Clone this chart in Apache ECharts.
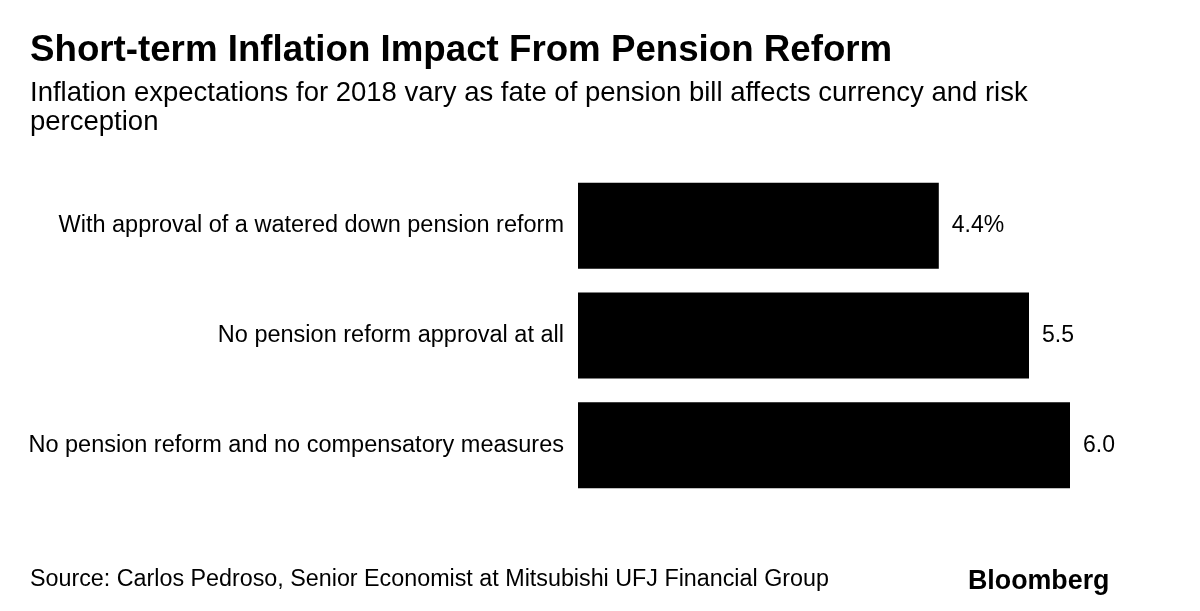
<!DOCTYPE html>
<html>
<head>
<meta charset="utf-8">
<script src="https://cdn.jsdelivr.net/npm/echarts@6/dist/echarts.min.js"></script>
<style>
html,body{margin:0;padding:0;background:#fff;}
#chart{width:1200px;height:611px;}
</style>
</head>
<body>
<div id="chart"></div>
<script>
const categories = [
  'With approval of a watered down pension reform',
  'No pension reform approval at all',
  'No pension reform and no compensatory measures'
];
const values = [4.4, 5.5, 6.0];
const valueLabels = ['4.4%', '5.5', '6.0'];

const FONT = '"Liberation Sans", Arial, sans-serif';
const chart = echarts.init(document.getElementById('chart'), null, {renderer: 'canvas'});
chart.setOption({
  backgroundColor: '#ffffff',
  animation: false,
  title: [
    {
      text: 'Short-term Inflation Impact From Pension Reform',
      left: 25, top: 27,
      textStyle: {fontFamily: FONT, fontSize: 36.7, fontWeight: 'bold', color: '#000'}
    },
    {
      text: 'Inflation expectations for 2018 vary as fate of pension bill affects currency and risk\nperception',
      left: 25, top: 74,
      textStyle: {fontFamily: FONT, fontSize: 27.5, fontWeight: 'normal', color: '#000', lineHeight: 29}
    },
    {
      text: 'Source: Carlos Pedroso, Senior Economist at Mitsubishi UFJ Financial Group',
      left: 25, top: 563,
      textStyle: {fontFamily: FONT, fontSize: 23.3, fontWeight: 'normal', color: '#000'}
    },
    {
      text: 'Bloomberg',
      left: 963, top: 563,
      textStyle: {fontFamily: FONT, fontSize: 26.8, fontWeight: 'bold', color: '#000'}
    }
  ],
  grid: {left: 578, top: 171, width: 574, height: 329, containLabel: false},
  xAxis: {
    type: 'value', min: 0, max: 7,
    show: false
  },
  yAxis: {
    type: 'category', data: categories, inverse: true,
    axisLine: {show: false}, axisTick: {show: false}, splitLine: {show: false},
    axisLabel: {fontFamily: FONT, fontSize: 23.5, color: '#000', margin: 14}
  },
  series: [{
    type: 'bar',
    data: values,
    barWidth: 86,
    itemStyle: {color: '#000'},
    label: {
      show: true, position: 'right', distance: 13,
      fontFamily: FONT, fontSize: 23, color: '#000',
      formatter: p => valueLabels[p.dataIndex]
    }
  }]
});
</script>
</body>
</html>
